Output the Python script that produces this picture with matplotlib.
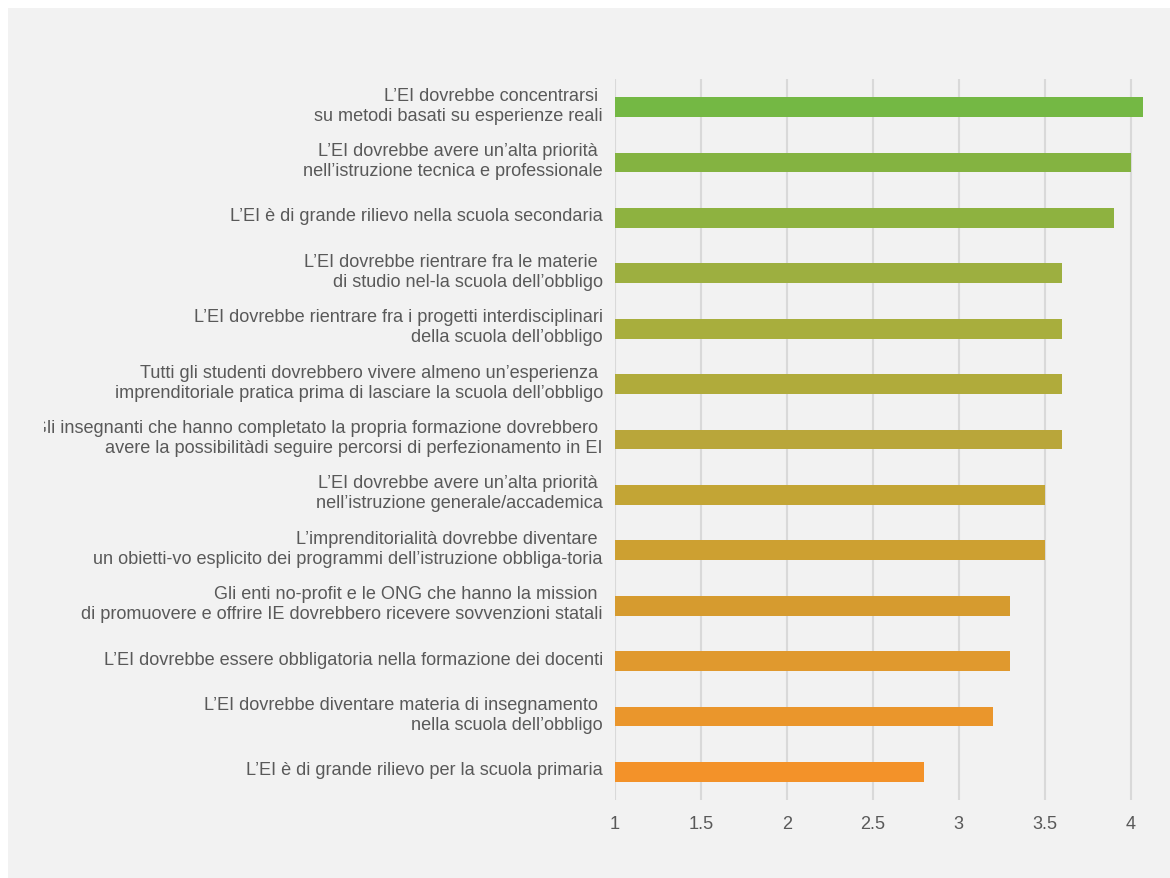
import matplotlib.pyplot as plt
from matplotlib.patches import Rectangle
from matplotlib.transforms import Bbox, IdentityTransform, TransformedBbox

# statements, top to bottom
labels = [
    "L\u2019EI dovrebbe concentrarsi \nsu metodi basati su esperienze reali",
    "L\u2019EI dovrebbe avere un\u2019alta priorità \nnell\u2019istruzione tecnica e professionale",
    "L\u2019EI è di grande rilievo nella scuola secondaria",
    "L\u2019EI dovrebbe rientrare fra le materie \ndi studio nel-la scuola dell\u2019obbligo",
    "L\u2019EI dovrebbe rientrare fra i progetti interdisciplinari\ndella scuola dell\u2019obbligo",
    "Tutti gli studenti dovrebbero vivere almeno un\u2019esperienza \nimprenditoriale pratica prima di lasciare la scuola dell\u2019obbligo",
    "Gli insegnanti che hanno completato la propria formazione dovrebbero \navere la possibilitàdi seguire percorsi di perfezionamento in EI",
    "L\u2019EI dovrebbe avere un\u2019alta priorità \nnell\u2019istruzione generale/accademica",
    "L\u2019imprenditorialità dovrebbe diventare \nun obietti-vo esplicito dei programmi dell\u2019istruzione obbliga-toria",
    "Gli enti no-profit e le ONG che hanno la mission \ndi promuovere e offrire IE dovrebbero ricevere sovvenzioni statali",
    "L\u2019EI dovrebbe essere obbligatoria nella formazione dei docenti",
    "L\u2019EI dovrebbe diventare materia di insegnamento \nnella scuola dell\u2019obbligo",
    "L\u2019EI è di grande rilievo per la scuola primaria",
]
values = [4.07, 4.0, 3.9, 3.6, 3.6, 3.6, 3.6, 3.5, 3.5, 3.3, 3.3, 3.2, 2.8]
bar_colors = ["#74b844", "#84b341", "#8eb240", "#9daf40", "#a8ae3d", "#b0ab3b",
              "#b9a63a", "#c3a535", "#cda031", "#d69b2f", "#e0992e", "#ea962c",
              "#f39229"]
xticks = [1, 1.5, 2, 2.5, 3, 3.5, 4]

plt.rcParams["font.family"] = ["Liberation Sans", "DejaVu Sans"]
txt = "#595959"
fs = 13.1

fig = plt.figure(figsize=(11.7, 8.79), dpi=100, facecolor="white")
fig.patches.append(Rectangle((8 / 1170, 0), 1, 1 - 9 / 879, transform=fig.transFigure,
                             facecolor="#f2f2f2", edgecolor="none", zorder=-10))

ax = fig.add_axes([0.5256, 0.0892, 0.9812 - 0.5256, 0.9085 - 0.0892])
ax.set_facecolor("none")

y = list(range(len(values)))
left = 1
ax.barh(y, [v - left for v in values], left=left, height=0.36, color=bar_colors,
        zorder=3)

ax.set_xlim(1, 4.1)
ax.set_ylim(len(values) - 0.5, -0.5)
ax.set_xticks(xticks)
ax.set_xticklabels([f"{t:g}" for t in xticks])
ax.set_yticks(y)
ax.set_yticklabels([])
ax.tick_params(axis="both", length=0, labelsize=fs, labelcolor=txt)
ax.tick_params(axis="x", pad=11)
ax.grid(axis="x", color="#d9d9d9", linewidth=1.5, zorder=0)
ax.set_axisbelow(True)
for s in ax.spines.values():
    s.set_visible(False)

# category labels, right-aligned left of the axis; long ones get cut at the left margin
clip = TransformedBbox(Bbox([[44, 0], [1170, 879]]), IdentityTransform())
for yi, lab in zip(y, labels):
    t = ax.annotate(lab, xy=(0, yi), xycoords=("axes fraction", "data"),
                    xytext=(-12, 2), textcoords="offset pixels",
                    ha="right", va="center", multialignment="right",
                    fontsize=fs, color=txt, linespacing=1.23,
                    annotation_clip=False)
    t.set_clip_box(clip)
    t.set_clip_on(True)

fig.savefig("out.png", dpi=100, facecolor=fig.get_facecolor())
